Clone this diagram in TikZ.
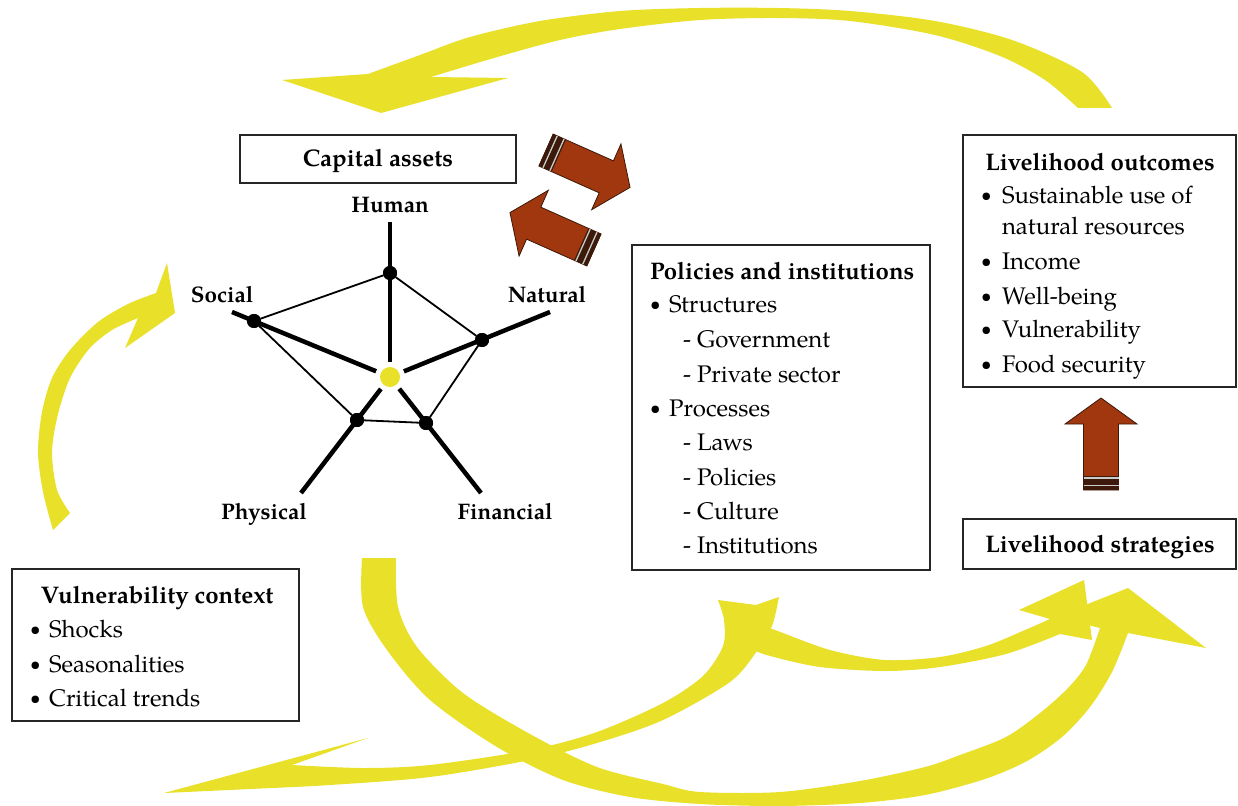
\documentclass[tikz,border=0pt]{standalone}
\usepackage{fontspec}
\usepackage{graphicx}
\setmainfont{texgyrepagella}[Extension=.otf,UprightFont=*-regular,BoldFont=*-bold,ItalicFont=*-italic,BoldItalicFont=*-bolditalic]
\definecolor{yel}{RGB}{233,224,42}
\definecolor{brn}{RGB}{160,55,14}
\definecolor{brnd}{RGB}{60,25,10}
\definecolor{stripe}{RGB}{200,205,200}
\newcommand{\smallbul}{\raisebox{1.6pt}{\scalebox{0.78}{\textbullet}}}
\newcommand{\bul}{\makebox[19pt][l]{\smallbul}}
\newcommand{\bulw}{\makebox[21pt][l]{\smallbul}}
\tikzset{
  brarrow/.pic={
    \fill[brn, draw=brnd, line width=0.8] (0,-17.5) -- (66,-17.5) -- (66,-36) -- (92,0) -- (66,36) -- (66,17.5) -- (0,17.5) -- cycle;
    \fill[brnd] (0,-17.5) rectangle (14,17.5);
    \draw[stripe, line width=1.3] (4.5,-17.5) -- (4.5,17.5) (12,-17.5) -- (12,17.5);
  }
}
\begin{document}
\begin{tikzpicture}[x=1pt,y=-1pt,
  every node/.style={inner sep=0, outer sep=0},
  box/.style={draw=black!85, line width=1.8, fill=white},
  txt/.style={anchor=base west, font=\fontsize{24}{29}\selectfont},
  ttl/.style={anchor=base, font=\fontsize{24}{29}\selectfont\bfseries},
  ttlw/.style={anchor=base west, font=\fontsize{24}{29}\selectfont\bfseries},
  lab/.style={anchor=base, font=\fontsize{22.5}{27}\selectfont\bfseries},
  dot/.style={circle, fill=black, minimum size=14},
  spoke/.style={line width=4.5, black},
  rim/.style={line width=1.8, black},
  swoosh/.style={fill=yel}]
\useasboundingbox (0,0) rectangle (1238,805);
\fill[white] (0,0) rectangle (1238,805);

% ---------- yellow swooshes ----------
% top: outcomes -> capital assets
\fill[swoosh] (1078,108) -- (1112,108) -- plot[smooth] coordinates {(1112,108) (1082,72) (1012,40) (935,21) (850,11) (778,8) (700,8) (620,11) (540,21) (470,37) (420,55) (368,74)} -- (282,80) -- (381,113) -- (508,78) -- plot[smooth] coordinates {(431,77) (494,58) (560,40) (620,29) (700,20) (778,18) (850,21) (935,35) (1000,56) (1045,80) (1078,108)} -- cycle;
% left: vulnerability -> capital assets
\fill[swoosh] (53,530) -- plot[smooth] coordinates {(53,530) (43,492) (38,452) (42,412) (52,378) (70,350) (98,322) (128,304) (156,293)} -- (167,263) -- (175,313) -- (125,348) -- plot[smooth] coordinates {(138,318) (112,330) (89,349) (70,378) (58,414) (52,452) (57,490) (70,513)} -- cycle;
% capital assets -> strategies
\fill[swoosh] (362,558) -- plot[smooth] coordinates {(362,558) (363,607) (387,650) (430,700) (497,747) (563,780) (630,797) (700,804) (780,806) (860,803) (925,795) (985,779) (1027,761) (1062,737) (1090,707) (1112,672) (1128,633)} -- (1206,648) -- (1128,588) -- (1055,617) -- plot[smooth] coordinates {(1100,628) (1086,665) (1067,689) (1040,713) (1006,737) (960,755) (925,767) (860,781) (780,792) (700,792) (663,784) (597,767) (530,734) (463,693) (417,647) (398,607) (396,558)} -- cycle;
% policies -> strategies
\fill[swoosh] plot[smooth] coordinates {(752,622) (775,630) (830,650) (885,660) (940,657) (986,646) (1025,630) (1050,619)} -- (1019,610) -- (1084,580) -- (1092,640) -- plot[smooth] coordinates {(1060,634) (1006,654) (940,667) (885,671) (820,667) (770,656) (748,648)} -- cycle;
% policies -> vulnerability
\fill[swoosh] (718,600) -- (756,605) -- (779,597) -- plot[smooth] coordinates {(779,597) (772,626) (757,651) (730,682) (663,720) (597,743) (530,760) (430,777) (330,785) (250,789) (164,793)} -- (368,738) -- (292,765) -- plot[smooth] coordinates {(292,765) (363,768) (430,765) (530,750) (597,732) (663,703) (703,676) (723,646) (724,620) (718,600)} -- cycle;

% ---------- boxes ----------
\node[box, minimum width=276, minimum height=48] (capbox) at (378,159) {};
\node[box, minimum width=298, minimum height=325] (polbox) at (781,407.5) {};
\node[box, minimum width=273, minimum height=252] (outbox) at (1099.5,261) {};
\node[box, minimum width=273, minimum height=50] (strbox) at (1099.5,544) {};
\node[box, minimum width=287, minimum height=152] (vulbox) at (155.5,645) {};

% ---------- texts ----------
\node[ttl] (tCap) at (378,167) {Capital assets};

\node[ttlw] (tPol) at (650,279) {Policies and institutions};
\node[txt] (pS) at (650,312) {\bul Structures};
\node[txt] (pG) at (683,347) {- Government};
\node[txt] (pP) at (683,382) {- Private sector};
\node[txt] (pR) at (650,416) {\bul Processes};
\node[txt] (pL) at (683,450) {- Laws};
\node[txt] (pO) at (683,485) {- Policies};
\node[txt] (pC) at (683,519) {- Culture};
\node[txt] (pI) at (683,553) {- Institutions};

\node[ttl] (tOut) at (1100,171) {Livelihood outcomes};
\node[txt] (o1) at (981,203) {\bulw Sustainable use of};
\node[txt] (o2) at (1002,234) {natural resources};
\node[txt] (o3) at (981,269) {\bulw Income};
\node[txt] (o4) at (981,304) {\bulw Well-being};
\node[txt] (o5) at (981,337) {\bulw Vulnerability};
\node[txt] (o6) at (981,372) {\bulw Food security};

\node[ttl] (tStr) at (1100,552) {Livelihood strategies};

\node[ttl] (tVul) at (157,603) {Vulnerability context};
\node[txt] (v1) at (30,637) {\bul Shocks};
\node[txt] (v2) at (30,672) {\bul Seasonalities};
\node[txt] (v3) at (30,706) {\bul Critical trends};

% ---------- capital assets pentagon ----------
\coordinate (hE) at (390,222);
\coordinate (sE) at (232,312);
\coordinate (nE) at (550,312);
\coordinate (pE) at (301,493);
\coordinate (fE) at (481,493);
\node[dot] (hD) at (390,273) {};
\node[dot] (sD) at (254,321) {};
\node[dot] (nD) at (482,340) {};
\node[dot] (pD) at (357,420) {};
\node[dot] (fD) at (426,423) {};
\node[circle, fill=yel, minimum size=20, outer sep=5] (ctr) at (390,377) {};
\draw[rim] (hD) -- (sD) -- (pD) -- (fD) -- (nD) -- (hD);
\draw[spoke] (hE) -- (ctr);
\draw[spoke] (sE) -- (ctr);
\draw[spoke] (nE) -- (ctr);
\draw[spoke] (pE) -- (ctr);
\draw[spoke] (fE) -- (ctr);
\node[dot] at (hD) {};
\node[dot] at (sD) {};
\node[dot] at (nD) {};
\node[dot] at (pD) {};
\node[dot] at (fD) {};

\node[lab] (lH) at (390,212) {Human};
\node[lab] (lS) at (222,302) {Social};
\node[lab] (lN) at (547,302) {Natural};
\node[lab] (lP) at (264,519) {Physical};
\node[lab] (lF) at (505,519) {Financial};

% ---------- brown block arrows ----------
\pic[rotate=-24] at (546,150) {brarrow};
\pic[rotate=156] at (594,250) {brarrow};
\pic[rotate=90] at (1101,490) {brarrow};
\end{tikzpicture}
\end{document}
